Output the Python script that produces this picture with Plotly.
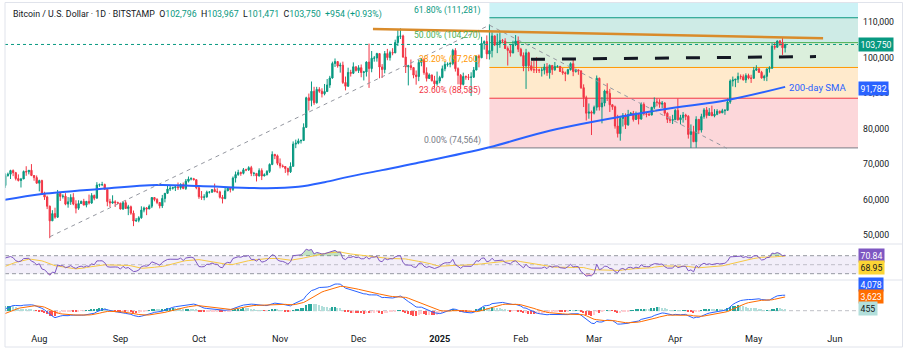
import numpy as np
import pandas as pd
import plotly.graph_objects as go
from datetime import datetime, timedelta

# ---------------- DATA (BTC/USD daily, thousand USD) ----------------
close_2024_06 = [67.75, 67.76, 68.80, 70.57, 71.08, 70.76, 69.34, 69.31, 69.65, 69.50, 67.32, 68.24, 66.76, 66.01, 66.19,
                 66.64, 66.49, 65.14, 64.96, 64.83, 64.10, 64.25, 63.18, 60.28, 61.80, 60.86, 61.67, 60.32, 60.89, 62.68]
close_2024_07 = [62.85, 62.03, 60.17, 56.98, 56.66, 58.23, 55.86, 56.69, 57.97, 57.75, 57.33, 57.89, 59.20, 60.80, 64.73,
                 65.08, 64.08, 63.97, 66.71, 67.16, 68.17, 67.58, 65.93, 65.37, 65.80, 67.91, 67.81, 68.26, 66.78, 66.19, 64.62]
close_2024_08 = [65.35, 61.50, 60.70, 58.12, 53.99, 56.03, 55.03, 61.71, 60.88, 60.95, 58.71, 59.35, 60.60, 58.74, 57.56,
                 58.87, 59.49, 58.43, 59.49, 59.01, 61.16, 60.38, 64.09, 64.18, 64.23, 62.88, 59.42, 59.03, 59.37, 59.12, 58.97]
close_2024_09 = [57.33, 59.12, 57.48, 57.97, 56.16, 53.95, 54.15, 54.84, 57.02, 57.64, 57.34, 58.13, 60.57, 60.01, 59.18,
                 58.21, 60.31, 61.76, 62.95, 63.20, 63.35, 63.58, 63.33, 64.26, 63.14, 65.18, 65.79, 65.89, 65.60, 63.33]
close_2024_10 = [60.81, 60.63, 60.75, 62.07, 62.09, 62.82, 62.22, 62.16, 60.64, 60.27, 62.45, 63.19, 62.86, 66.06, 67.04,
                 67.61, 67.40, 68.39, 68.36, 69.00, 67.37, 67.38, 66.66, 68.17, 66.64, 67.02, 67.94, 69.91, 72.72, 72.34, 70.22]
close_2024_11 = [69.48, 69.32, 68.74, 67.81, 69.36, 75.64, 75.90, 76.55, 76.68, 80.37, 88.70, 87.96, 90.55, 87.30, 91.07,
                 90.56, 89.85, 90.46, 92.31, 94.29, 98.38, 98.92, 97.67, 97.90, 93.01, 91.97, 95.86, 95.64, 97.46, 96.41]
close_2024_12 = [97.19, 95.84, 96.00, 98.77, 96.95, 99.87, 99.92, 101.17, 97.39, 96.68, 101.17, 100.04, 101.46, 101.37, 104.30,
                 106.06, 106.14, 100.20, 97.46, 97.76, 97.22, 95.10, 94.70, 98.68, 99.43, 95.79, 94.17, 95.16, 93.53, 92.64, 93.43]
close_2025_01 = [94.42, 96.89, 98.11, 98.22, 98.35, 102.08, 96.92, 95.04, 92.48, 94.70, 94.57, 94.49, 94.52, 96.53, 100.50,
                 99.99, 104.08, 104.56, 101.09, 102.02, 106.15, 103.65, 103.96, 104.82, 104.71, 102.60, 102.08, 101.33, 103.73, 104.73, 102.41]
close_2025_02 = [100.64, 97.69, 101.40, 97.76, 96.61, 96.59, 96.53, 96.48, 96.50, 97.40, 95.75, 97.84, 96.62, 97.52,
                 97.57, 96.12, 95.75, 95.53, 96.63, 98.33, 96.13, 96.58, 96.27, 91.55, 88.74, 84.35, 84.70, 84.37]
close_2025_03 = [86.03, 94.22, 86.12, 87.22, 90.62, 89.96, 86.74, 86.15, 80.73, 78.60, 82.86, 83.72, 81.07, 83.97, 84.34,
                 82.58, 84.08, 82.72, 86.85, 84.17, 84.04, 83.83, 86.05, 87.50, 87.47, 86.90, 87.22, 84.35, 82.61, 82.34, 82.55]
close_2025_04 = [85.17, 82.49, 83.10, 83.84, 83.50, 78.37, 79.16, 76.32, 82.62, 79.59, 83.40, 85.29, 83.73, 84.59, 83.64,
                 84.03, 84.90, 84.45, 85.06, 85.17, 87.52, 93.44, 93.70, 93.94, 94.72, 94.65, 93.75, 94.98, 94.28, 94.21]
close_2025_05 = [96.49, 96.91, 95.89, 94.32, 94.75, 96.83, 97.03, 103.24, 102.97, 104.70, 104.12, 102.796, 103.75]

# highs / lows of the visible candles (July from the 17th)
high_2024_07 = [66.1, 65.1, 67.4, 67.6, 68.4, 68.5, 67.8, 67.1, 66.1, 68.2, 69.4, 68.3, 70.0, 66.9, 66.8]
low_2024_07 = [63.9, 63.3, 63.3, 66.5, 65.8, 66.6, 65.4, 65.1, 63.4, 65.8, 66.7, 67.1, 66.6, 65.3, 64.5]
high_2024_08 = [65.6, 65.6, 62.2, 61.1, 58.3, 57.0, 57.7, 62.7, 61.8, 61.5, 61.8, 60.7, 61.5, 61.8, 59.8, 59.8,
                59.7, 60.2, 59.6, 61.4, 61.8, 61.4, 64.9, 64.5, 65.0, 64.5, 63.2, 60.2, 61.2, 59.8, 59.4]
low_2024_08 = [62.3, 61.3, 59.9, 57.3, 49.1, 54.0, 54.6, 54.8, 59.6, 60.3, 58.4, 57.7, 58.5, 58.4, 56.1, 57.1,
               58.8, 58.4, 57.8, 58.6, 58.8, 59.8, 60.3, 63.6, 63.8, 62.8, 58.1, 57.9, 58.8, 57.9, 58.8]
high_2024_09 = [59.1, 59.4, 59.8, 58.5, 58.3, 56.9, 54.8, 55.3, 58.1, 58.0, 57.9, 58.6, 60.7, 60.6, 60.4,
                59.2, 61.3, 61.8, 63.9, 64.1, 63.6, 64.0, 64.8, 64.6, 64.8, 65.8, 66.5, 66.3, 66.1, 65.6]
low_2024_09 = [57.2, 57.1, 57.4, 55.6, 55.7, 52.5, 53.7, 53.6, 54.6, 56.4, 55.6, 57.3, 57.6, 59.5, 58.7,
               57.5, 57.6, 59.2, 61.6, 62.4, 62.8, 62.4, 62.7, 62.8, 62.9, 62.7, 64.8, 65.4, 65.4, 62.9]
high_2024_10 = [64.1, 62.4, 61.5, 62.5, 62.4, 62.9, 64.5, 63.2, 62.5, 61.3, 63.4, 63.5, 63.3, 66.5, 67.9, 68.4,
                67.9, 68.9, 68.7, 69.4, 69.5, 67.8, 67.4, 68.8, 68.8, 67.4, 68.3, 70.2, 73.6, 72.9, 72.7]
low_2024_10 = [60.2, 59.9, 59.8, 60.5, 61.7, 61.9, 62.1, 61.8, 60.3, 58.9, 60.1, 62.4, 62.0, 62.4, 64.8, 66.7,
               66.7, 67.1, 68.0, 68.1, 66.6, 66.6, 65.1, 66.5, 65.5, 66.6, 66.8, 67.5, 69.7, 71.4, 69.7]
high_2024_11 = [71.6, 69.9, 69.4, 69.0, 70.5, 76.4, 76.9, 77.2, 76.9, 81.5, 89.0, 89.9, 93.3, 91.8, 91.8,
                91.7, 91.4, 92.6, 94.0, 94.9, 98.9, 99.8, 98.8, 98.6, 98.9, 94.7, 97.2, 96.6, 98.7, 97.5]
low_2024_11 = [68.8, 69.0, 67.5, 66.8, 67.5, 69.3, 74.5, 75.6, 75.8, 76.5, 80.2, 85.1, 86.3, 86.7, 87.1,
               90.1, 88.8, 89.4, 90.4, 91.5, 94.1, 97.4, 97.2, 95.8, 92.6, 90.8, 91.8, 94.7, 95.4, 96.1]
high_2024_12 = [97.9, 98.1, 96.3, 99.0, 104.0, 101.9, 100.5, 101.4, 101.2, 98.2, 101.9, 102.5, 102.0, 102.7, 105.1,
                107.8, 108.3, 106.5, 102.8, 98.0, 99.5, 97.4, 96.4, 99.4, 99.9, 99.9, 97.3, 95.6, 95.2, 94.9, 96.1]
low_2024_12 = [95.7, 94.5, 93.6, 94.7, 91.5, 95.9, 98.9, 98.9, 94.2, 94.3, 95.6, 99.3, 99.2, 100.7, 101.3,
               103.3, 105.3, 100.0, 95.7, 92.2, 96.5, 94.2, 92.4, 93.4, 97.6, 95.2, 93.3, 94.0, 93.3, 91.4, 92.1]
high_2025_01 = [94.9, 97.8, 98.9, 98.7, 98.8, 102.5, 102.7, 97.3, 95.4, 95.8, 95.0, 95.4, 95.9, 97.4, 100.7,
                100.9, 105.9, 104.9, 106.3, 109.4, 107.2, 106.3, 106.8, 107.1, 105.3, 105.5, 103.2, 103.7, 104.8, 106.4, 106.0]
low_2025_01 = [92.8, 94.2, 96.2, 97.5, 97.3, 97.9, 96.1, 92.5, 91.2, 92.2, 93.8, 93.7, 89.2, 94.3, 96.5,
               97.3, 99.9, 102.3, 99.6, 99.5, 100.1, 103.3, 101.3, 102.8, 104.1, 102.5, 97.8, 100.3, 101.3, 103.3, 101.6]
high_2025_02 = [102.8, 101.5, 102.5, 101.7, 99.0, 99.2, 100.1, 96.9, 97.3, 98.3, 98.5, 98.1, 97.9, 98.8,
                97.9, 97.7, 97.1, 96.1, 96.9, 98.7, 99.5, 96.9, 96.6, 96.5, 92.5, 89.3, 87.1, 85.1]
low_2025_02 = [100.3, 96.2, 91.2, 96.2, 96.2, 95.7, 95.7, 95.7, 94.7, 95.3, 94.9, 94.1, 95.2, 96.3,
               97.2, 96.0, 95.2, 93.4, 95.2, 96.4, 94.8, 95.8, 95.2, 91.2, 86.1, 82.3, 82.8, 78.2]
high_2025_03 = [86.5, 95.0, 94.4, 88.9, 91.0, 92.8, 91.2, 86.9, 86.5, 83.9, 83.6, 84.4, 84.3, 85.3, 84.7,
                85.0, 84.8, 84.1, 87.4, 87.4, 84.7, 84.5, 86.1, 88.8, 88.5, 88.3, 87.8, 87.5, 84.6, 83.5, 83.9]
low_2025_03 = [84.0, 85.1, 85.1, 81.5, 86.3, 87.8, 84.7, 85.3, 80.0, 77.5, 76.6, 80.6, 79.9, 80.8, 83.7,
               82.0, 82.5, 81.2, 82.5, 83.7, 83.2, 83.7, 83.8, 85.5, 86.3, 85.9, 85.8, 83.6, 81.6, 81.6, 81.3]
high_2025_04 = [85.5, 88.5, 83.9, 84.7, 84.2, 83.8, 81.2, 80.8, 83.5, 82.7, 84.2, 85.8, 86.1, 85.8, 86.5,
                85.5, 85.5, 85.1, 85.6, 85.5, 88.5, 93.9, 94.7, 94.0, 95.8, 95.3, 95.3, 95.6, 95.5, 95.2]
low_2025_04 = [82.4, 82.3, 81.2, 81.7, 82.4, 77.2, 74.564, 76.2, 74.6, 78.5, 78.9, 82.8, 82.9, 83.7, 83.6,
               83.2, 83.8, 84.2, 84.4, 83.9, 85.1, 87.0, 91.9, 91.7, 92.9, 93.9, 93.6, 92.9, 93.9, 92.9]
high_2025_05 = [97.4, 97.9, 96.9, 96.3, 95.2, 97.0, 97.6, 104.1, 104.3, 104.9, 105.0, 105.8, 103.967]
low_2025_05 = [94.1, 96.3, 95.7, 94.1, 93.5, 93.4, 95.8, 96.9, 102.3, 102.8, 103.3, 100.8, 101.471]

# 200-day SMA (thousand USD)
sma_dates = ["2024-07-17", "2024-08-02", "2024-08-24", "2024-09-15", "2024-10-01", "2024-10-27", "2024-11-08",
             "2024-11-18", "2024-11-27", "2024-12-10", "2024-12-23", "2025-01-20", "2025-02-12", "2025-03-26",
             "2025-04-21", "2025-05-13"]
sma_values = [59.68, 61.57, 62.98, 64.11, 63.83, 63.20, 63.60, 64.90, 66.40, 68.30, 70.23, 74.74, 79.42, 85.26,
              88.08, 91.78]

# Fibonacci retracement levels
fib_pcts = ["0.00%", "23.60%", "38.20%", "50.00%", "61.80%"]
fib_values = [74564, 88585, 97260, 104270, 111281]
fib_start = "2025-01-20"

# drawn tools (date, price)
orange_line = [("2024-12-06 12:00", 108110), ("2025-05-27 12:00", 105490)]
black_dash_line = [("2025-02-04 21:00", 99560), ("2025-05-24 19:00", 100320)]
gray_up_line = [("2024-08-05", 49500), ("2025-01-20", 109200)]
gray_down_line = [("2025-01-20", 109200), ("2025-04-20 17:00", 74460)]

# last-value labels on the scales
sma_last = 91782
rsi_last, rsi_ma_last = 70.84, 68.95
macd_last, signal_last, hist_last = 4078, 3623, 455

price_ticks = [50000, 60000, 70000, 80000, 90000, 100000, 110000]
month_tick_dates = ["2024-08-01", "2024-09-01", "2024-10-01", "2024-11-01", "2024-12-01", "2025-01-01",
                    "2025-02-01", "2025-03-01", "2025-04-01", "2025-05-01", "2025-06-01"]
month_tick_text = ["Aug", "Sep", "Oct", "Nov", "Dec", "<b>2025</b>", "Feb", "Mar", "Apr", "May", "Jun"]

# ---------------- BUILD SERIES ----------------
month_starts = ["2024-06-01", "2024-07-01", "2024-08-01", "2024-09-01", "2024-10-01", "2024-11-01", "2024-12-01",
                "2025-01-01", "2025-02-01", "2025-03-01", "2025-04-01", "2025-05-01"]
close_months = [close_2024_06, close_2024_07, close_2024_08, close_2024_09, close_2024_10, close_2024_11,
                close_2024_12, close_2025_01, close_2025_02, close_2025_03, close_2025_04, close_2025_05]
high_months = [None, high_2024_07, high_2024_08, high_2024_09, high_2024_10, high_2024_11, high_2024_12,
               high_2025_01, high_2025_02, high_2025_03, high_2025_04, high_2025_05]
low_months = [None, low_2024_07, low_2024_08, low_2024_09, low_2024_10, low_2024_11, low_2024_12,
              low_2025_01, low_2025_02, low_2025_03, low_2025_04, low_2025_05]

dates, closes, highs, lows = [], [], [], []
for start, c, h, l in zip(month_starts, close_months, high_months, low_months):
    dates += list(pd.date_range(start, periods=len(c), freq="D"))
    closes += c
    if h is None:
        highs += [np.nan] * len(c)
        lows += [np.nan] * len(c)
    else:
        assert len(h) == len(l), start
        pad = len(c) - len(h)
        highs += [np.nan] * pad + h
        lows += [np.nan] * pad + l

df = pd.DataFrame({"close": np.array(closes) * 1000, "high": np.array(highs) * 1000,
                   "low": np.array(lows) * 1000}, index=pd.DatetimeIndex(dates))
df["open"] = df["close"].shift(1)
vis = df[df["high"].notna()]

# indicators
delta = df["close"].diff()
up = delta.clip(lower=0).ewm(alpha=1 / 14, adjust=False).mean()
dn = (-delta.clip(upper=0)).ewm(alpha=1 / 14, adjust=False).mean()
rsi = 100 - 100 / (1 + up / dn)
rsi_ma = rsi.rolling(14).mean()
ema12 = df["close"].ewm(span=12, adjust=False).mean()
ema26 = df["close"].ewm(span=26, adjust=False).mean()
macd = ema12 - ema26
signal = macd.ewm(span=9, adjust=False).mean()
hist = macd - signal
hist_colors = []
prev = 0.0
for h in hist.values:
    if h >= 0:
        hist_colors.append("#26A69A" if h > prev else "#B2DFDB")
    else:
        hist_colors.append("#FFCDD2" if h > prev else "#FF5252")
    prev = h

# ---------------- GEOMETRY ----------------
W, H = 903, 351
def fx(px): return px / W
def fy(py): return 1 - py / H

AUG1 = datetime(2024, 8, 1)
PX_AUG1, PX_PER_DAY = 39.3, 2.617
PLOT_L, PLOT_R = 5, 858
x_range = [AUG1 + timedelta(days=(PLOT_L - PX_AUG1) / PX_PER_DAY),
           AUG1 + timedelta(days=(PLOT_R - PX_AUG1) / PX_PER_DAY)]

MAIN_TOP, MAIN_BOT, RSI_BOT, MACD_BOT = 3, 244, 280, 328
main_range = [47461, 115444]
rsi_range = [16, 96]
macd_range = [-4553, 8079]

FONT = "Roboto"
TXT = "#131722"
UP, DOWN = "#089981", "#F23645"

fig = go.Figure()

# candles
fig.add_trace(go.Candlestick(
    x=vis.index, open=vis["open"], high=vis["high"], low=vis["low"], close=vis["close"],
    increasing=dict(line=dict(color=UP, width=1), fillcolor=UP),
    decreasing=dict(line=dict(color=DOWN, width=1), fillcolor=DOWN),
    whiskerwidth=0, hoverinfo="skip", showlegend=False, xaxis="x", yaxis="y"))

# 200 SMA
fig.add_trace(go.Scatter(x=pd.to_datetime(sma_dates), y=np.array(sma_values) * 1000, mode="lines",
                         line=dict(color="#2962FF", width=2, shape="spline", smoothing=1.0),
                         hoverinfo="skip", showlegend=False, xaxis="x", yaxis="y"))

# RSI pane
n = len(df)
fig.add_trace(go.Scatter(x=df.index, y=[70] * n, mode="lines", line=dict(width=0), hoverinfo="skip",
                         showlegend=False, xaxis="x2", yaxis="y2"))
fig.add_trace(go.Scatter(x=df.index, y=np.maximum(rsi.values, 70), mode="lines", line=dict(width=0),
                         fill="tonexty", fillcolor="rgba(76,175,80,0.35)", hoverinfo="skip",
                         showlegend=False, xaxis="x2", yaxis="y2"))
fig.add_trace(go.Scatter(x=df.index, y=[30] * n, mode="lines", line=dict(width=0), hoverinfo="skip",
                         showlegend=False, xaxis="x2", yaxis="y2"))
fig.add_trace(go.Scatter(x=df.index, y=np.minimum(rsi.values, 30), mode="lines", line=dict(width=0),
                         fill="tonexty", fillcolor="rgba(242,54,69,0.3)", hoverinfo="skip",
                         showlegend=False, xaxis="x2", yaxis="y2"))
fig.add_trace(go.Scatter(x=df.index, y=rsi_ma, mode="lines", line=dict(color="#F7C843", width=1),
                         hoverinfo="skip", showlegend=False, xaxis="x2", yaxis="y2"))
fig.add_trace(go.Scatter(x=df.index, y=rsi, mode="lines", line=dict(color="#7E57C2", width=1),
                         hoverinfo="skip", showlegend=False, xaxis="x2", yaxis="y2"))

# MACD pane
fig.add_trace(go.Bar(x=df.index, y=hist, marker=dict(color=hist_colors, line=dict(width=0)),
                     width=0.55 * 86400000, hoverinfo="skip", showlegend=False, xaxis="x3", yaxis="y3"))
fig.add_trace(go.Scatter(x=df.index, y=macd, mode="lines", line=dict(color="#2962FF", width=1),
                         hoverinfo="skip", showlegend=False, xaxis="x3", yaxis="y3"))
fig.add_trace(go.Scatter(x=df.index, y=signal, mode="lines", line=dict(color="#FF6D00", width=1),
                         hoverinfo="skip", showlegend=False, xaxis="x3", yaxis="y3"))

shapes = []
annotations = []

# Fibonacci zones + lines + labels
fib_line_colors = ["#787B86", "#F23645", "#FF9800", "#4CAF50", "#089981"]
fib_zone_colors = ["rgba(242,54,69,0.2)", "rgba(255,152,0,0.2)", "rgba(76,175,80,0.2)",
                   "rgba(8,153,129,0.2)", "rgba(0,188,212,0.2)"]
zone_bounds = fib_values + [main_range[1]]
for i in range(len(fib_values)):
    shapes.append(dict(type="rect", xref="x", yref="y", x0=fib_start, x1=x_range[1],
                       y0=zone_bounds[i], y1=zone_bounds[i + 1], fillcolor=fib_zone_colors[i],
                       line=dict(width=0), layer="below"))
for v, pct, col in zip(fib_values, fib_pcts, fib_line_colors):
    shapes.append(dict(type="line", xref="x", yref="y", x0=fib_start, x1=x_range[1], y0=v, y1=v,
                       line=dict(color=col, width=1), layer="below"))
    annotations.append(dict(x=fib_start, y=v, xref="x", yref="y", text=f"{pct} ({v:,})", showarrow=False,
                            xanchor="right", yanchor="bottom", xshift=-6, yshift=0,
                            font=dict(family=FONT, size=8.6, color=col)))

# current price dotted line
shapes.append(dict(type="line", xref="x", yref="y", x0=x_range[0], x1=x_range[1],
                   y0=vis["close"].iloc[-1], y1=vis["close"].iloc[-1],
                   line=dict(color=UP, width=1, dash="dot"), layer="above"))

def seg(pts, color, width, dash):
    (d0, p0), (d1, p1) = pts
    return dict(type="line", xref="x", yref="y", x0=d0, y0=p0, x1=d1, y1=p1,
                line=dict(color=color, width=width, dash=dash), layer="above")

shapes.append(seg(gray_up_line, "#9598A1", 1, "4px,4px"))
shapes.append(seg(gray_down_line, "#9598A1", 1, "4px,4px"))
shapes.append(seg(orange_line, "#D98B2B", 2.5, "solid"))
shapes.append(seg(black_dash_line, "#131722", 3, "14px,17px"))

# RSI band + levels
shapes.append(dict(type="rect", xref="x2 domain", yref="y2", x0=0, x1=1, y0=30, y1=70,
                   fillcolor="rgba(126,87,194,0.1)", line=dict(width=0), layer="below"))
for lv, col in [(70, "#9598A1"), (50, "rgba(149,152,161,0.55)"), (30, "#9598A1")]:
    shapes.append(dict(type="line", xref="x2 domain", yref="y2", x0=0, x1=1, y0=lv, y1=lv,
                       line=dict(color=col, width=1, dash="4px,3px"), layer="below"))
# MACD zero line
shapes.append(dict(type="line", xref="x3 domain", yref="y3", x0=0, x1=1, y0=0, y1=0,
                   line=dict(color="rgba(149,152,161,0.6)", width=1, dash="4px,3px"), layer="below"))

# frame & pane separators
BORDER = "#E0E3EB"
for py in (MAIN_BOT, RSI_BOT):
    shapes.append(dict(type="line", xref="paper", yref="paper", x0=fx(PLOT_L), x1=1, y0=fy(py), y1=fy(py),
                       line=dict(color=BORDER, width=1)))
shapes.append(dict(type="rect", xref="paper", yref="paper", x0=fx(5), x1=fx(902.5), y0=fy(347), y1=fy(2.5),
                   line=dict(color=BORDER, width=1), fillcolor="rgba(0,0,0,0)"))

# SMA label
annotations.append(dict(x=sma_dates[-1], y=sma_last, xref="x", yref="y", text="200-day SMA", showarrow=False,
                        xanchor="left", yanchor="middle", xshift=2, yshift=-1,
                        font=dict(family=FONT, size=9.6, color="#2962FF")))

# header
o, hgh, lw, c = vis["open"].iloc[-1], vis["high"].iloc[-1], vis["low"].iloc[-1], vis["close"].iloc[-1]
chg = c - o
g = lambda s: f'<span style="color:{UP}">{s}</span>'
header = ("Bitcoin / U.S. Dollar · 1D · BITSTAMP  " + "O" + g(f"{o:,.0f}") + "  H" + g(f"{hgh:,.0f}") +
          "  L" + g(f"{lw:,.0f}") + "  C" + g(f"{c:,.0f}") + "  " + g(f"{chg:+,.0f} ({chg / o * 100:+.2f}%)"))
annotations.append(dict(x=fx(11), y=fy(14.5), xref="paper", yref="paper", text=header, showarrow=False,
                        xanchor="left", yanchor="middle", font=dict(family=FONT, size=8.8, color=TXT)))

# scale value boxes
boxes = [(f"{c:,.0f}", c, UP, "white", "y", 0),
         (f"{sma_last:,}", sma_last, "#2962FF", "white", "y", -1.5),
         (f"{rsi_last:.2f}", rsi_last, "#7E57C2", "white", "y2", 0),
         (f"{rsi_ma_last:.2f}", rsi_ma_last, "#FCD535", TXT, "y2", -11),
         (f"{macd_last:,}", macd_last, "#2962FF", "white", "y3", 11),
         (f"{signal_last:,}", signal_last, "#FF6D00", "white", "y3", 0),
         (f"{hist_last:,}", hist_last, "#B2DFDB", TXT, "y3", 0)]
for txt, val, bg, fc, yr, ys in boxes:
    annotations.append(dict(x=fx(PLOT_R), y=val, xref="paper", yref=yr, text=txt, showarrow=False,
                            xanchor="left", yanchor="middle", yshift=ys, bgcolor=bg, borderpad=1.5,
                            font=dict(family=FONT, size=8.7, color=fc)))

common_x = dict(range=x_range, domain=[fx(PLOT_L), fx(PLOT_R)], showgrid=False, zeroline=False,
                showline=False, type="date")
fig.update_layout(
    width=W, height=H, margin=dict(l=0, r=0, t=0, b=0),
    paper_bgcolor="white", plot_bgcolor="white", showlegend=False, hovermode=False,
    bargap=0,
    xaxis=dict(**common_x, anchor="y", showticklabels=False, rangeslider=dict(visible=False)),
    xaxis2=dict(**common_x, anchor="y2", showticklabels=False),
    xaxis3=dict(**common_x, anchor="y3", showticklabels=True, tickvals=pd.to_datetime(month_tick_dates),
                ticktext=month_tick_text, ticks="", tickfont=dict(family=FONT, size=9.2, color=TXT),
                ticklabelstandoff=4),
    yaxis=dict(domain=[fy(MAIN_BOT), fy(MAIN_TOP)], range=main_range, side="right", anchor="x",
               showgrid=False, zeroline=False, tickvals=price_ticks, ticktext=[f"{v:,}" for v in price_ticks],
               ticks="", tickfont=dict(family=FONT, size=8.7, color=TXT), ticklabelstandoff=4),
    yaxis2=dict(domain=[fy(RSI_BOT), fy(MAIN_BOT)], range=rsi_range, side="right", anchor="x2",
                showgrid=False, zeroline=False, showticklabels=False),
    yaxis3=dict(domain=[fy(MACD_BOT), fy(RSI_BOT)], range=macd_range, side="right", anchor="x3",
                showgrid=False, zeroline=False, showticklabels=False),
    shapes=shapes, annotations=annotations,
)

fig.write_html("out.html", config={"displayModeBar": False})
